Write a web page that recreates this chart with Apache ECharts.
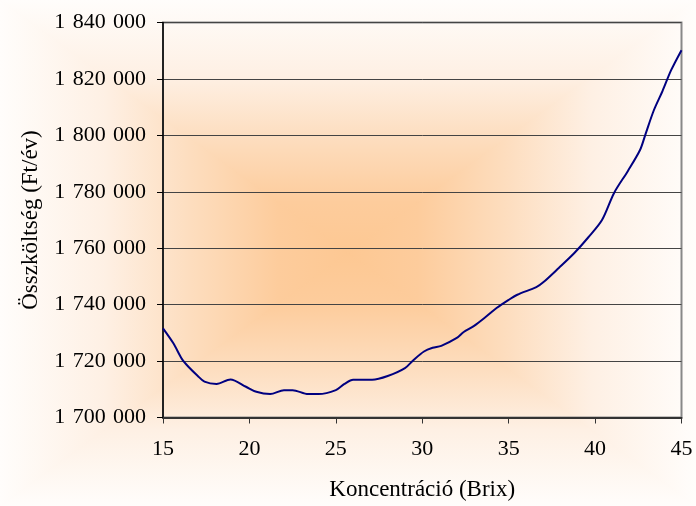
<!DOCTYPE html>
<html>
<head>
<meta charset="utf-8">
<script src="https://cdn.jsdelivr.net/npm/echarts@6/dist/echarts.min.js"></script>
<style>
html,body{margin:0;padding:0;background:#fff;}
#chart{width:696px;height:506px;}
</style>
</head>
<body>
<div id="chart"></div>
<script>
var concentration = [15, 15.6, 16.1, 16.5, 17, 17.4, 18.1, 18.9, 19.8, 20.4, 21.2, 22, 22.5, 23.4, 24, 25, 25.5, 26, 27.1, 28, 29, 29.5, 30.1, 30.6, 31.1, 32, 32.4, 33, 33.7, 34.3, 35, 35.5, 36.6, 37, 37.9, 38.8, 39.6, 40.4, 41.1, 41.9, 42.6, 42.9, 43.4, 43.9, 44.4, 45];
var totalCost = [1731600, 1726300, 1720700, 1717800, 1714800, 1712700, 1711900, 1713500, 1710900, 1709100, 1708300, 1709700, 1709700, 1708300, 1708300, 1709700, 1711900, 1713400, 1713400, 1714700, 1717500, 1720400, 1723400, 1724700, 1725400, 1728200, 1730300, 1732500, 1735800, 1738800, 1741700, 1743500, 1746200, 1747900, 1753000, 1758300, 1763800, 1770000, 1779600, 1787400, 1794800, 1800100, 1808900, 1815700, 1823100, 1830200];
var xTitle = 'Koncentráció (Brix)';
var yTitle = 'Összköltség (Ft/év)';

var W = 696, H = 506, cx = 348, cy = 253;
function grad(x, y, x2, y2) {
  return {type: 'linear', x: x, y: y, x2: x2, y2: y2, global: true,
    colorStops: [
      {offset: 0, color: '#FFFDFB'},
      {offset: 0.3, color: '#FEF0E4'},
      {offset: 0.55, color: '#FDDDBE'},
      {offset: 0.8, color: '#FDCC9C'},
      {offset: 1, color: '#FDC893'}
    ]};
}
var bg = [
  {type: 'polygon', shape: {points: [[0,0],[0,H],[cx,cy]]}, g: grad(0,0,cx,0)},
  {type: 'polygon', shape: {points: [[W,0],[W,H],[cx,cy]]}, g: grad(W,0,cx,0)},
  {type: 'polygon', shape: {points: [[0,0],[W,0],[cx,cy]]}, g: grad(0,0,0,cy)},
  {type: 'polygon', shape: {points: [[0,H],[W,H],[cx,cy]]}, g: grad(0,H,0,cy)}
].map(function (o, i) {
  return {type: 'polygon', shape: o.shape, z: -100 + i, silent: true,
    style: {fill: o.g, stroke: o.g, lineWidth: 1.5}};
});

var chart = echarts.init(document.getElementById('chart'), null, {renderer: 'canvas'});
var font = '"Liberation Serif", "Times New Roman", serif';
chart.setOption({
  animation: false,
  backgroundColor: 'transparent',
  graphic: bg,
  grid: {left: 163, right: 14.5, top: 22.5, bottom: 88.5, containLabel: false, outerBoundsMode: 'none',
    show: true, borderColor: '#888888', borderWidth: 2, backgroundColor: 'transparent'},
  xAxis: {
    type: 'value', min: 15, max: 45, interval: 5,
    name: xTitle, nameLocation: 'middle', nameGap: 61,
    nameTextStyle: {fontFamily: font, fontSize: 23, color: '#000'},
    axisLine: {show: true, onZero: false, lineStyle: {color: '#333', width: 2}},
    axisTick: {show: true, length: 6, lineStyle: {color: '#333', width: 1}},
    axisLabel: {fontFamily: font, fontSize: 22, color: '#000', margin: 21},
    splitLine: {show: false}
  },
  yAxis: {
    type: 'value', min: 1700000, max: 1840000, interval: 20000,
    name: yTitle, nameLocation: 'middle', nameGap: 121, nameRotate: 90,
    nameTextStyle: {fontFamily: font, fontSize: 23, color: '#000'},
    axisLine: {show: true, onZero: false, lineStyle: {color: '#000', width: 1.5}},
    axisTick: {show: true, length: 6, lineStyle: {color: '#000', width: 1}},
    axisLabel: {fontFamily: font, fontSize: 22, color: '#000', margin: 17,
      formatter: function (v) { return String(v).replace(/\B(?=(\d{3})+(?!\d))/g, ' \u200A'); }},
    splitLine: {show: true, lineStyle: {color: '#444', width: 1}}
  },
  series: [{
    type: 'line',
    data: concentration.map(function (x, i) { return [x, totalCost[i]]; }),
    showSymbol: false,
    smooth: 0.3,
    lineStyle: {color: '#000080', width: 2},
    z: 5
  }]
});
</script>
</body>
</html>
